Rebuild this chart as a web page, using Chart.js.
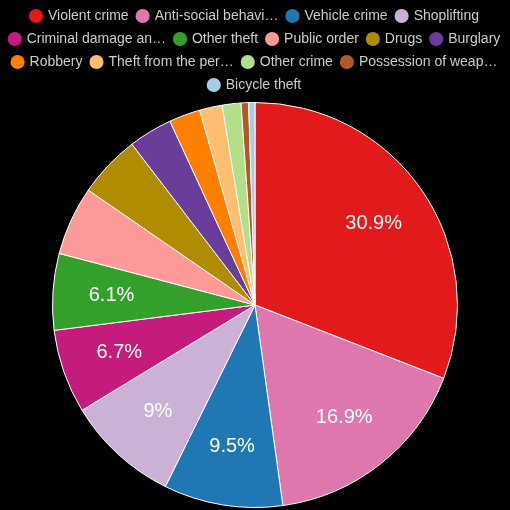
<!DOCTYPE html>
<html>
<head>
<meta charset="utf-8">
<script src="https://cdn.jsdelivr.net/npm/chart.js@4"></script>
<style>
  html, body { margin: 0; padding: 0; background: #000; }
  #wrap { width: 510px; height: 510px; }
</style>
</head>
<body>
<div id="wrap"><canvas id="crimeChart"></canvas></div>
<script>
'use strict'
const categories = ['Violent crime', 'Anti-social behaviour', 'Vehicle crime', 'Shoplifting',
  'Criminal damage and arson', 'Other theft', 'Public order', 'Drugs', 'Burglary', 'Robbery',
  'Theft from the person', 'Other crime', 'Possession of weapons', 'Bicycle theft'];
const shares = [30.9, 16.9, 9.5, 9, 6.7, 6.1, 5.5, 5.0, 3.5, 2.5, 1.8, 1.5, 0.6, 0.5];
const colours = ['#e31a1c', '#de77ae', '#1f78b4', '#cab2d6', '#c51b7d', '#33a02c', '#fb9a99',
  '#b08c00', '#6a3d9a', '#ff7f00', '#fdbf6f', '#b2df8a', '#b15928', '#a6cee3'];

// draw percentage text inside the bigger slices
const sliceLabels = {
  id: 'sliceLabels',
  afterDatasetsDraw(chart) {
    const ctx = chart.ctx;
    const meta = chart.getDatasetMeta(0);
    ctx.save();
    ctx.fillStyle = '#fff';
    ctx.font = '20px "Liberation Sans", Arial, sans-serif';
    ctx.textAlign = 'center';
    ctx.textBaseline = 'middle';
    meta.data.forEach((arc, i) => {
      if (shares[i] < 6) return;
      const mid = (arc.startAngle + arc.endAngle) / 2;
      const r = arc.outerRadius * 0.71;
      ctx.fillText(shares[i] + '%', arc.x + Math.cos(mid) * r, arc.y + Math.sin(mid) * r);
    });
    ctx.restore();
  }
};

const ctx = document.getElementById('crimeChart').getContext('2d');
new Chart(ctx, {
  type: 'pie',
  data: {
    labels: categories,
    datasets: [{ data: shares, backgroundColor: colours, borderColor: '#fff', borderWidth: 1 }]
  },
  options: {
    animation: false,
    maintainAspectRatio: false,
    layout: { padding: { bottom: 2 } },
    plugins: {
      tooltip: { enabled: false },
      legend: {
        position: 'top',
        labels: {
          color: '#ccc',
          font: { size: 14, family: '"Liberation Sans", Arial, sans-serif' },
          usePointStyle: true,
          pointStyle: 'circle',
          boxWidth: 10,
          boxHeight: 10,
          padding: 9,
          generateLabels(chart) {
            return categories.map((c, i) => ({
              text: c.length > 18 ? c.slice(0, 18) + '…' : c,
              fillStyle: colours[i],
              strokeStyle: colours[i],
              fontColor: '#ccc',
              lineWidth: 0,
              pointStyle: 'circle',
              index: i
            }));
          }
        }
      }
    }
  },
  plugins: [sliceLabels]
});
</script>
</body>
</html>
